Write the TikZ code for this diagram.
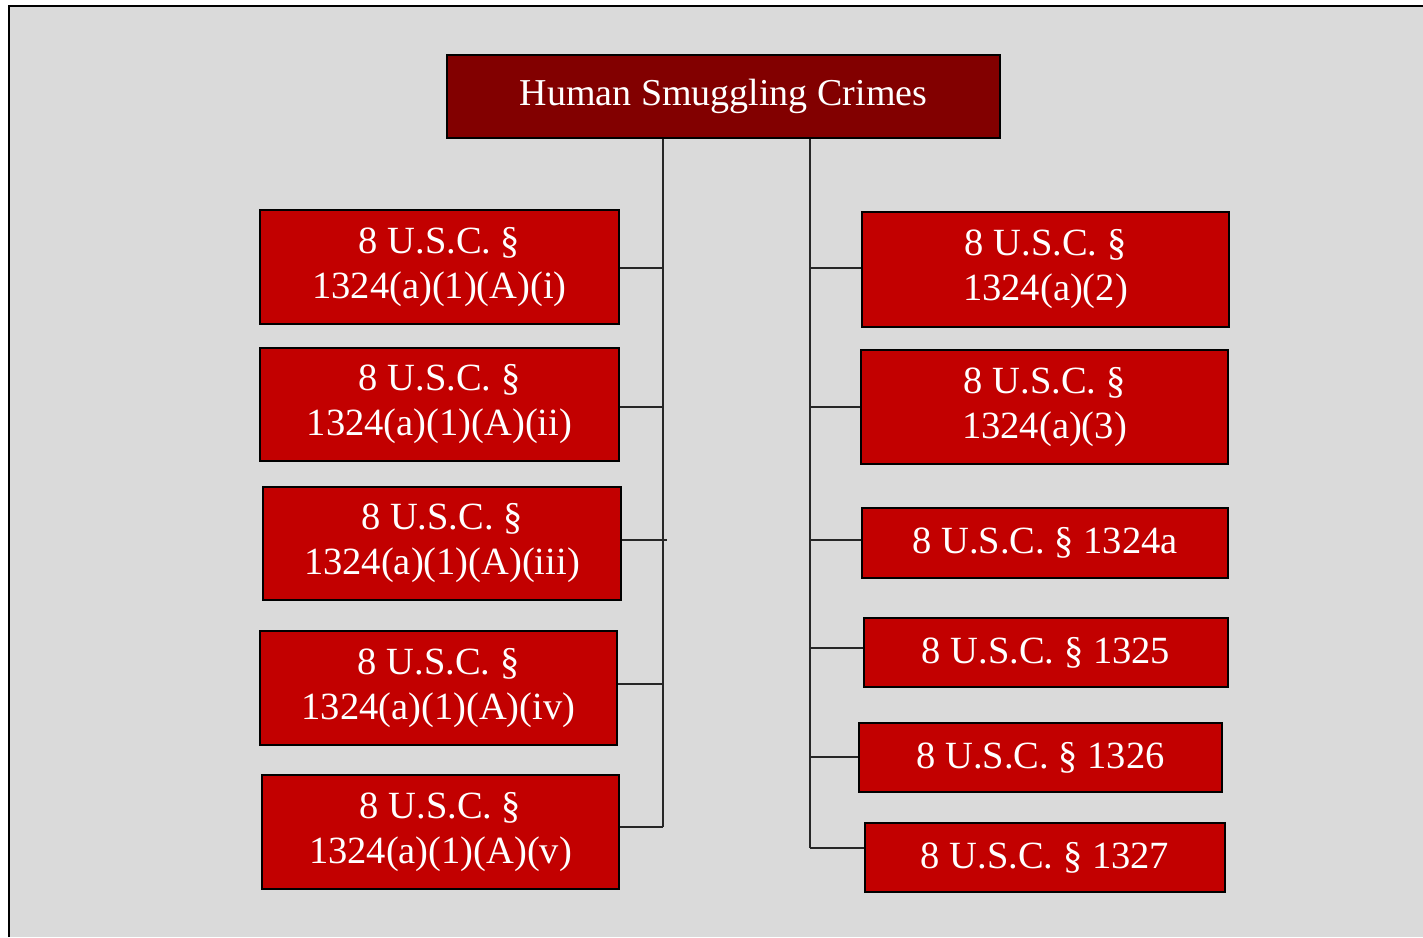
\documentclass[tikz,border=0pt]{standalone}
\usepackage{fontspec}
\setmainfont{Liberation Serif}
\definecolor{bg}{HTML}{DADADA}
\definecolor{darkred}{HTML}{820000}
\definecolor{boxred}{HTML}{C20000}
\begin{document}
\begin{tikzpicture}[x=1pt,y=-1pt,
  topbox/.style={draw=black,line width=1.5pt,fill=darkred,text=white,inner sep=0pt,
    font=\fontsize{38}{44}\selectfont,align=center},
  lawbox/.style={draw=black,line width=1.5pt,fill=boxred,text=white,inner sep=0pt,
    font=\fontsize{38.5}{45}\selectfont,align=center},
  conn/.style={draw=black!85,line width=1.8pt}]
\useasboundingbox (0,0) rectangle (1423,937);
\fill[white] (0,0) rectangle (1423,937);
\fill[bg] (9,6) rectangle (1423,937);
\draw[line width=1.5pt] (9,937) -- (9,6) -- (1423,6);
% top
\node[topbox,minimum width=553pt,minimum height=83pt] (top) at (723.5,96.5) {Human Smuggling Crimes};
% left boxes
\node[lawbox,minimum width=359pt,minimum height=114pt] (l1) at (439.5,267) {8 U.S.C. §\\1324(a)(1)(A)(i)};
\node[lawbox,minimum width=359pt,minimum height=113pt] (l2) at (439.5,404.5) {8 U.S.C. §\\1324(a)(1)(A)(ii)};
\node[lawbox,minimum width=358pt,minimum height=113pt] (l3) at (442,543.5) {8 U.S.C. §\\1324(a)(1)(A)(iii)};
\node[lawbox,minimum width=357pt,minimum height=114pt] (l4) at (438.5,688) {8 U.S.C. §\\1324(a)(1)(A)(iv)};
\node[lawbox,minimum width=357pt,minimum height=114pt] (l5) at (440.5,832) {8 U.S.C. §\\1324(a)(1)(A)(v)};
% right boxes
\node[lawbox,minimum width=367pt,minimum height=115pt] (r1) at (1045.5,269.5) {8 U.S.C. §\\1324(a)(2)};
\node[lawbox,minimum width=367pt,minimum height=114pt] (r2) at (1044.5,407) {8 U.S.C. §\\1324(a)(3)};
\node[lawbox,minimum width=366pt,minimum height=70pt] (r3) at (1045,543) {8 U.S.C. § 1324a};
\node[lawbox,minimum width=364pt,minimum height=69pt] (r4) at (1046,652.5) {8 U.S.C. § 1325};
\node[lawbox,minimum width=363pt,minimum height=69pt] (r5) at (1040.5,757.5) {8 U.S.C. § 1326};
\node[lawbox,minimum width=360pt,minimum height=69pt] (r6) at (1045,857.5) {8 U.S.C. § 1327};
% trunk coordinates
\coordinate (lt) at (663,827);
\coordinate (rt) at (810,848);
\draw[conn] (top.south -| lt) -- (lt);
\draw[conn] (top.south -| rt) -- (rt);
% left branches
\draw[conn] (l1.east |- 0,268) -- (663,268);
\draw[conn] (l2.east |- 0,407) -- (663,407);
\draw[conn] (l3.east |- 0,540) -- (667,540);
\draw[conn] (l4.east |- 0,684) -- (663,684);
\draw[conn] (l5.east |- 0,827) -- (lt);
% right branches
\draw[conn] (810,268) -- (r1.west |- 0,268);
\draw[conn] (810,407) -- (r2.west |- 0,407);
\draw[conn] (810,540) -- (r3.west |- 0,540);
\draw[conn] (810,648) -- (r4.west |- 0,648);
\draw[conn] (810,757) -- (r5.west |- 0,757);
\draw[conn] (rt) -- (r6.west |- 0,848);
\end{tikzpicture}
\end{document}
